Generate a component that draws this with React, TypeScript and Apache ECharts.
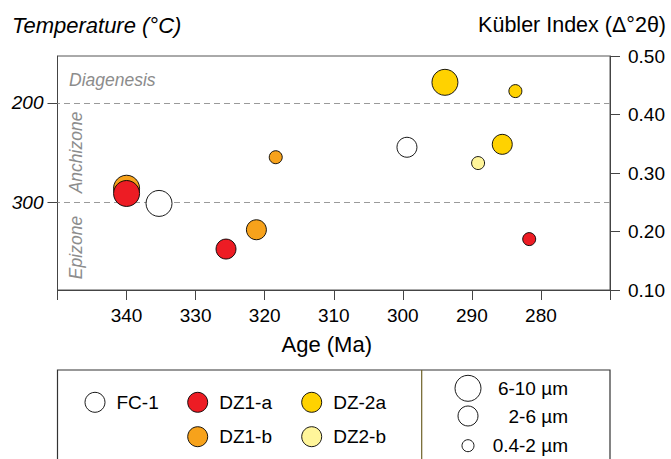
import React, { useEffect, useRef } from "react";
import * as echarts from "echarts";

// ---- Data ----
const groups = ["FC-1", "DZ1-a", "DZ1-b", "DZ-2a", "DZ2-b"];
const groupColors = ["#FFFFFF", "#ED1C24", "#F7A21B", "#FFD200", "#FFF59A"];

const fc1Age = [335.3, 299.4];
const fc1KI = [0.248, 0.344];
const fc1Size = ["L", "M"];

const dz1aAge = [340.0, 325.6, 281.7];
const dz1aKI = [0.265, 0.17, 0.187];
const dz1aSize = ["L", "M", "S"];

const dz1bAge = [340.0, 321.2, 318.4];
const dz1bKI = [0.274, 0.203, 0.327];
const dz1bSize = ["L", "M", "S"];

const dz2aAge = [293.9, 285.6, 283.7];
const dz2aKI = [0.455, 0.349, 0.44];
const dz2aSize = ["L", "M", "S"];

const dz2bAge = [289.1];
const dz2bKI = [0.317];
const dz2bSize = ["S"];

const sizeClasses = ["L", "M", "S"];
const sizeLabels = ["6-10 µm", "2-6 µm", "0.4-2 µm"];

const zoneKI = [0.42, 0.25]; // diagenesis/anchizone, anchizone/epizone
const zoneTemps = [200, 300];
const zoneNames = ["Diagenesis", "Anchizone", "Epizone"];

const ageTicks = [340, 330, 320, 310, 300, 290, 280];
const kiTicks = [0.1, 0.2, 0.3, 0.4, 0.5];

// ---- Styles ----
const FONT = '"Liberation Sans", Arial, sans-serif';
const sizeDiam: Record<string, number> = { L: 26, M: 20, S: 13 };
const legendDiam = [26, 20, 12];

const KI_MIN = 0.1;
const KI_MAX = 0.5;
// linear temperature scale tied to the KI scale
const tempAt = (ki: number) =>
  zoneTemps[0] + ((zoneKI[0] - ki) / (zoneKI[0] - zoneKI[1])) * (zoneTemps[1] - zoneTemps[0]);

function build(age: number[], ki: number[], size: string[]) {
  return age.map((a, i) => [a, ki[i], size[i]]);
}

export default function App() {
  const ref = useRef<HTMLDivElement>(null);

  useEffect(() => {
    if (!ref.current) return;
    const chart = echarts.init(ref.current, null, { renderer: "svg" });

    const seriesData: Record<string, any[]> = {
      "FC-1": build(fc1Age, fc1KI, fc1Size),
      "DZ1-a": build(dz1aAge, dz1aKI, dz1aSize),
      "DZ1-b": build(dz1bAge, dz1bKI, dz1bSize),
      "DZ-2a": build(dz2aAge, dz2aKI, dz2aSize),
      "DZ2-b": build(dz2bAge, dz2bKI, dz2bSize),
    };
    const drawOrder = ["FC-1", "DZ1-b", "DZ1-a", "DZ-2a", "DZ2-b"];

    const series: any[] = drawOrder.map((g, idx) => ({
      type: "scatter",
      name: g,
      xAxisIndex: 0,
      yAxisIndex: 0,
      data: seriesData[g],
      symbolSize: (v: any[]) => sizeDiam[v[2]],
      itemStyle: {
        color: groupColors[groups.indexOf(g)],
        borderColor: "#000",
        borderWidth: 0.9,
        opacity: 1,
      },
      z: 3,
      markLine:
        idx === 0
          ? {
              silent: true,
              symbol: ["none", "none"],
              label: { show: false },
              lineStyle: { type: [6, 4], color: "#9a9a9a", width: 1.2 },
              data: zoneKI.map((k) => ({ yAxis: k })),
              z: 1,
            }
          : undefined,
    }));

    // legend graphics
    const legendPos = [
      { g: "FC-1", x: 95, y: 402.3 },
      { g: "DZ1-a", x: 197.7, y: 402.3 },
      { g: "DZ-2a", x: 311.7, y: 402.3 },
      { g: "DZ1-b", x: 197.7, y: 436.7 },
      { g: "DZ2-b", x: 311.7, y: 436.7 },
    ];
    const sizeLegY = [388.3, 416, 445.7];

    const graphic: any[] = [
      {
        type: "text",
        x: 12,
        y: 25,
        style: { text: "Temperature (°C)", font: `italic 22px ${FONT}`, fill: "#000", align: "left", verticalAlign: "middle" },
      },
      {
        type: "text",
        x: 666,
        y: 25,
        style: { text: "Kübler Index (Δ°2θ)", font: `21.5px ${FONT}`, fill: "#000", align: "right", verticalAlign: "middle" },
      },
      {
        type: "text",
        x: 69,
        y: 80,
        style: { text: zoneNames[0], font: `italic 17.5px ${FONT}`, fill: "#8c8c8c", align: "left", verticalAlign: "middle" },
      },
      {
        type: "text",
        x: 76,
        y: 152.5,
        rotation: Math.PI / 2,
        style: { text: zoneNames[1], font: `italic 17.5px ${FONT}`, fill: "#8c8c8c", align: "center", verticalAlign: "middle" },
      },
      {
        type: "text",
        x: 76,
        y: 247.5,
        rotation: Math.PI / 2,
        style: { text: zoneNames[2], font: `italic 17.5px ${FONT}`, fill: "#8c8c8c", align: "center", verticalAlign: "middle" },
      },
      {
        type: "rect",
        shape: { x: 57.5, y: 370, width: 552.5, height: 120 },
        style: { fill: "none", stroke: "#333", lineWidth: 1.2 },
      },
      {
        type: "line",
        shape: { x1: 421.7, y1: 370, x2: 421.7, y2: 460 },
        style: { stroke: "#6e6228", lineWidth: 1.2 },
      },
    ];
    legendPos.forEach((p) => {
      graphic.push({
        type: "circle",
        shape: { cx: p.x, cy: p.y, r: 10 },
        style: { fill: groupColors[groups.indexOf(p.g)], stroke: "#000", lineWidth: 0.9 },
      });
      graphic.push({
        type: "text",
        x: p.x + 21.5,
        y: p.y,
        style: { text: p.g, font: `19px ${FONT}`, fill: "#000", align: "left", verticalAlign: "middle" },
      });
    });
    sizeClasses.forEach((c, i) => {
      graphic.push({
        type: "circle",
        shape: { cx: 468, cy: sizeLegY[i], r: legendDiam[i] / 2 },
        style: { fill: "#fff", stroke: "#000", lineWidth: 0.9 },
      });
      graphic.push({
        type: "text",
        x: 568,
        y: sizeLegY[i],
        style: { text: sizeLabels[i], font: `19px ${FONT}`, fill: "#000", align: "right", verticalAlign: "middle" },
      });
    });

    const option: any = {
      animation: false,
      backgroundColor: "#fff",
      textStyle: { fontFamily: FONT },
      grid: {
        left: 57.5,
        right: 61,
        top: 56,
        bottom: 169,
        show: true,
        borderColor: "#555",
        borderWidth: 1,
        backgroundColor: "transparent",
        containLabel: false,
        outerBoundsMode: "none",
      },
      xAxis: {
        type: "value",
        min: 270,
        max: 350,
        interval: 10,
        inverse: true,
        name: "Age (Ma)",
        nameLocation: "middle",
        nameGap: 43,
        nameTextStyle: { fontSize: 22, color: "#000", fontFamily: FONT, padding: [0, 14, 0, 0] },
        axisLine: { show: true, lineStyle: { color: "#444", width: 1 } },
        axisTick: { show: true, inside: false, length: 10, lineStyle: { color: "#444" } },
        axisLabel: {
          fontSize: 19,
          color: "#000",
          margin: 16,
          formatter: (v: number) => (ageTicks.includes(v) ? String(v) : ""),
        },
        splitLine: { show: false },
      },
      yAxis: [
        {
          type: "value",
          position: "right",
          min: KI_MIN,
          max: KI_MAX,
          interval: 0.1,
          axisLine: { show: true, lineStyle: { color: "#444", width: 1 } },
          axisTick: { show: true, inside: false, length: 10, lineStyle: { color: "#444" } },
          axisLabel: {
            fontSize: 19,
            color: "#000",
            margin: 18,
            formatter: (v: number) => (kiTicks.some((k) => Math.abs(k - v) < 1e-6) ? v.toFixed(2) : ""),
          },
          splitLine: { show: false },
        },
        {
          type: "value",
          position: "left",
          inverse: true,
          min: tempAt(KI_MAX),
          max: tempAt(KI_MIN),
          axisLine: { show: true, lineStyle: { color: "#444", width: 1 } },
          axisTick: { show: true, inside: false, length: 10, customValues: zoneTemps, lineStyle: { color: "#444" } },
          axisLabel: {
            fontSize: 19,
            fontStyle: "italic",
            color: "#000",
            margin: 14,
            customValues: zoneTemps,
            formatter: (v: number) => String(Math.round(v)),
          },
          splitLine: { show: false },
        },
      ],
      series,
      graphic,
    };

    chart.setOption(option);
    return () => chart.dispose();
  }, []);

  return (
    <div
      ref={ref}
      style={{ position: "fixed", left: 0, top: 0, width: 671, height: 459, background: "#fff" }}
    />
  );
}
